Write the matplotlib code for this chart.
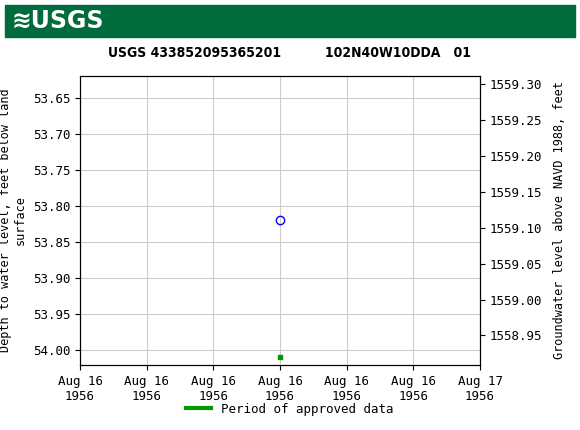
import matplotlib
matplotlib.use("Agg")
import matplotlib.pyplot as plt
import matplotlib.dates as mdates
from datetime import datetime, timedelta

dates = [datetime(1956, 8, 16, 12, 0)]
depth = [53.82]
approved_depth = [54.01]
tick_dates = [datetime(1956, 8, 16) + timedelta(hours=4 * i) for i in range(7)]
tick_labels = ["Aug 16\n1956"] * 6 + ["Aug 17\n1956"]
offset = 1612.93

fig = plt.figure(figsize=(5.8, 4.3), dpi=100)
fig.patches.append(plt.Rectangle((5/580, 1-37/430), 570/580, 32/430, transform=fig.transFigure,
                                 color="#006b3c", zorder=0))
fig.text(12/580, 1-21/430, "≋USGS", color="white", fontsize=17, fontweight="bold", va="center",
         family="DejaVu Sans")
fig.text(0.5, 1-53/430, "USGS 433852095365201          102N40W10DDA   01", ha="center", va="center",
         fontsize=10, fontweight="bold", family="Liberation Sans Narrow", stretch="condensed")

ax = fig.add_axes([80/580, 1-365/430, 400/580, 289/430])
mono = dict(family="DejaVu Sans Mono", fontsize=9)
lab = dict(family="DejaVu Sans Mono", fontsize=8.5)
ax.plot(dates, depth, "o", mfc="none", mec="blue", ms=6)
ax.plot(dates, approved_depth, "s", color="#009900", ms=3)
ax.set_xlim(tick_dates[0], tick_dates[-1])
ax.set_xticks(tick_dates)
ax.set_xticklabels(tick_labels, **mono)
ax.set_ylim(54.021, 53.6194)
yt = [53.65, 53.70, 53.75, 53.80, 53.85, 53.90, 53.95, 54.00]
ax.set_yticks(yt)
ax.set_yticklabels([f"{v:.2f}" for v in yt], **mono)
ax.grid(color="#cccccc", lw=0.8)
ax.set_ylabel("Depth to water level, feet below land\nsurface", **lab)

ax2 = ax.twinx()
ax2.set_ylim(offset - 54.021, offset - 53.6194)
rt = [1558.95, 1559.00, 1559.05, 1559.10, 1559.15, 1559.20, 1559.25, 1559.30]
ax2.set_yticks(rt)
ax2.set_yticklabels([f"{v:.2f}" for v in rt], **mono)
ax2.set_ylabel("Groundwater level above NAVD 1988, feet", **lab, labelpad=8)

fig.legend(handles=[plt.Line2D([], [], color="#009900", lw=3)], labels=["Period of approved data"],
           loc="center", bbox_to_anchor=(0.5, 1-409/430), frameon=False, prop={"family": "DejaVu Sans Mono", "size": 9})
fig.savefig("out.png", dpi=100)
